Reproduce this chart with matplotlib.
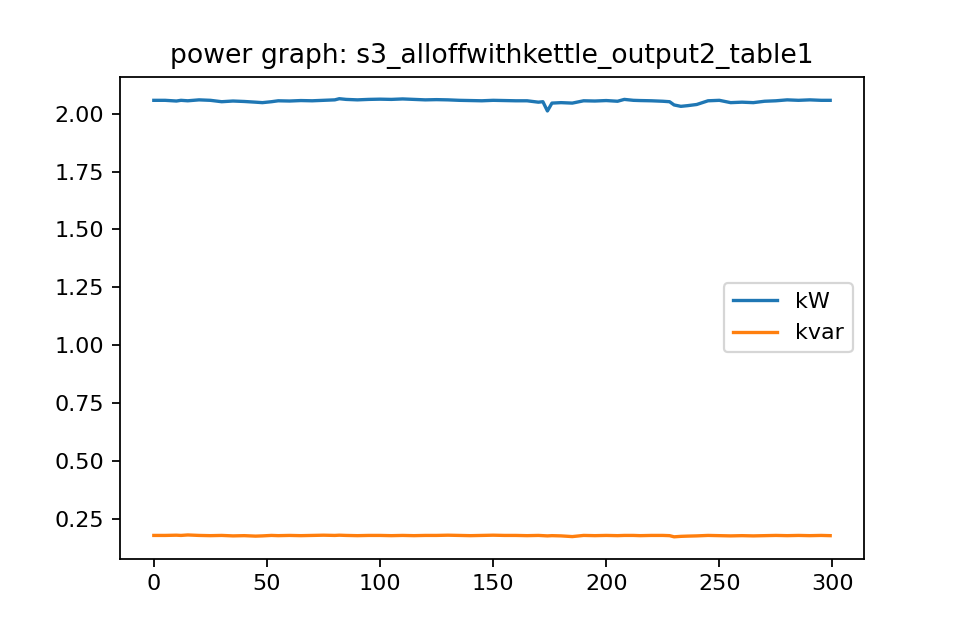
import matplotlib
matplotlib.use("Agg")
import matplotlib.pyplot as plt

# sample index and readings
idx = [0, 5, 10, 12, 15, 20, 25, 30, 35, 40, 45, 48, 52, 55, 60, 65, 70, 75, 80, 82,
       85, 90, 95, 100, 105, 110, 115, 120, 125, 130, 135, 140, 145, 150, 155, 160,
       165, 170, 172, 174, 176, 180, 185, 190, 195, 200, 205, 208, 212, 215, 220,
       225, 228, 230, 233, 236, 240, 245, 250, 255, 260, 265, 270, 275, 280, 285,
       290, 295, 299]
kw = [2.058, 2.058, 2.055, 2.058, 2.056, 2.060, 2.058, 2.052, 2.055, 2.053, 2.050, 2.048,
      2.052, 2.056, 2.055, 2.057, 2.056, 2.058, 2.060, 2.065, 2.062, 2.060, 2.062, 2.063,
      2.062, 2.064, 2.062, 2.060, 2.061, 2.060, 2.058, 2.057, 2.056, 2.058, 2.057, 2.056,
      2.056, 2.050, 2.052, 2.012, 2.046, 2.048, 2.046, 2.056, 2.055, 2.057, 2.054, 2.062,
      2.058, 2.057, 2.056, 2.054, 2.052, 2.038, 2.032, 2.035, 2.040, 2.056, 2.058, 2.048,
      2.050, 2.048, 2.054, 2.056, 2.060, 2.058, 2.060, 2.058, 2.058]
kvar = [0.178, 0.178, 0.179, 0.178, 0.180, 0.178, 0.177, 0.178, 0.176, 0.177, 0.175, 0.176,
        0.178, 0.177, 0.178, 0.177, 0.178, 0.179, 0.178, 0.179, 0.178, 0.177, 0.178, 0.178,
        0.177, 0.178, 0.177, 0.178, 0.178, 0.179, 0.178, 0.177, 0.178, 0.179, 0.178, 0.178,
        0.177, 0.178, 0.177, 0.176, 0.177, 0.176, 0.173, 0.178, 0.177, 0.178, 0.177, 0.178,
        0.178, 0.177, 0.178, 0.178, 0.177, 0.172, 0.174, 0.175, 0.176, 0.178, 0.177, 0.176,
        0.177, 0.176, 0.177, 0.178, 0.177, 0.178, 0.177, 0.178, 0.177]

fig, ax = plt.subplots(figsize=(6, 4), dpi=160)
fig.subplots_adjust(left=0.125, right=0.9, top=0.88, bottom=0.127)
ax.plot(idx, kw, label="kW")
ax.plot(idx, kvar, label="kvar")
ax.set_title("power graph: s3_alloffwithkettle_output2_table1")
ax.legend(loc="center right")
fig.savefig("out.png", dpi=160)
